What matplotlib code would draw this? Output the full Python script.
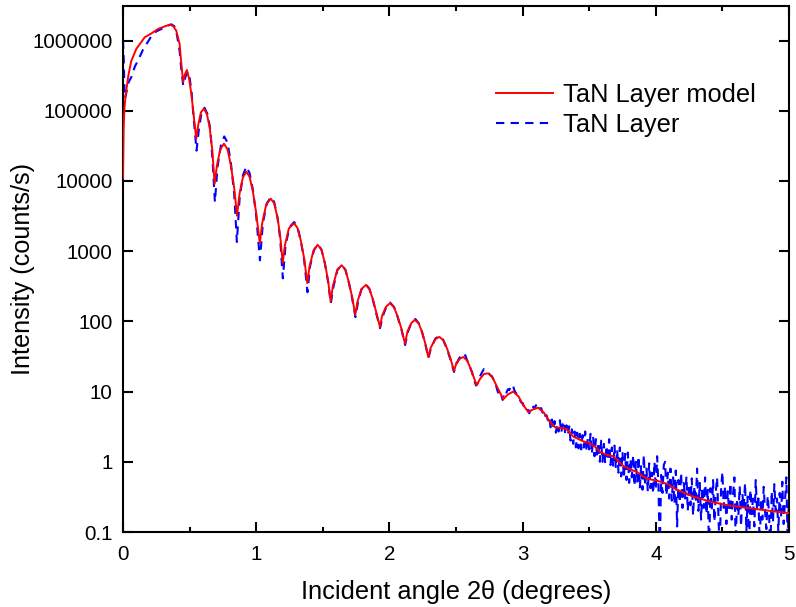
import numpy as np
import matplotlib
matplotlib.use("Agg")
import matplotlib.pyplot as plt
from matplotlib.ticker import FixedLocator, FixedFormatter, MultipleLocator, NullLocator

plt.rcParams['font.family'] = ['Liberation Sans', 'DejaVu Sans']

# Simulated reflectivity (model fit): incident angle (deg) and intensity (counts/s)
model_angle = [
    0.000, 0.005, 0.010, 0.020, 0.040, 0.062, 0.100, 0.163, 0.213, 0.263, 0.310, 0.350,
    0.375, 0.400, 0.425, 0.440, 0.452, 0.465, 0.480, 0.497, 0.513, 0.530, 0.550, 0.565,
    0.585, 0.608, 0.630, 0.650, 0.670, 0.688, 0.705, 0.730, 0.758, 0.785, 0.810, 0.835,
    0.856, 0.875, 0.900, 0.926, 0.950, 0.975, 1.000, 1.027, 1.045, 1.075, 1.109, 1.135,
    1.160, 1.180, 1.199, 1.215, 1.245, 1.284, 1.310, 1.335, 1.360, 1.384, 1.400, 1.430,
    1.461, 1.490, 1.515, 1.540, 1.559, 1.575, 1.610, 1.642, 1.670, 1.695, 1.720, 1.744,
    1.760, 1.790, 1.824, 1.850, 1.875, 1.900, 1.929, 1.945, 1.975, 2.005, 2.035, 2.060,
    2.090, 2.117, 2.135, 2.165, 2.192, 2.220, 2.245, 2.270, 2.292, 2.310, 2.345, 2.375,
    2.405, 2.435, 2.460, 2.485, 2.505, 2.535, 2.555, 2.585, 2.615, 2.655, 2.680, 2.710,
    2.743, 2.775, 2.810, 2.855, 2.890, 2.930, 2.970, 3.000, 3.043, 3.080, 3.118, 3.160,
    3.200, 3.243, 3.305, 3.330, 3.380, 3.456, 3.500, 3.556, 3.580, 3.630, 3.680, 3.757,
    3.800, 3.857, 3.930, 4.007, 4.090, 4.157, 4.280, 4.410, 4.530, 4.660, 4.780, 4.900,
    5.000,
]
model_counts = [
    1.1e4, 5.6e4, 1.05e5, 1.66e5, 3.16e5, 5.1e5, 7.6e5, 1.11e6, 1.26e6, 1.46e6, 1.58e6, 1.68e6,
    1.62e6, 1.38e6, 8.9e5, 4.2e5, 2.57e5, 3.3e5, 3.8e5, 2.8e5, 1.74e5, 8.9e4, 4.0e4, 6.3e4,
    9.5e4, 1.07e5, 8.9e4, 5.9e4, 2.8e4, 9.1e3, 1.66e4, 2.8e4, 3.4e4, 2.8e4, 1.66e4, 7.9e3,
    3.2e3, 6.6e3, 1.12e4, 1.35e4, 1.15e4, 7.1e3, 3.5e3, 1.29e3, 2.5e3, 4.6e3, 5.6e3, 4.8e3,
    3.0e3, 1.66e3, 680, 1.2e3, 2.1e3, 2.5e3, 2.14e3, 1.41e3, 790, 350, 600, 1.02e3,
    1.23e3, 1.05e3, 680, 380, 190, 316, 550, 630, 540, 363, 224, 123,
    190, 288, 331, 288, 209, 138, 83, 120, 162, 182, 158, 120,
    79, 48, 71, 95, 105, 93, 71, 48, 31, 42, 56, 60,
    54, 40, 29, 19.7, 26, 30, 31, 27.5, 20, 12.3, 15.1, 17.8,
    18.2, 15.8, 11.5, 7.8, 9.1, 10.0, 8.5, 6.6, 5.1, 5.6, 5.9, 5.0,
    3.8, 3.1, 3.0, 2.95, 2.29, 1.95, 1.86, 1.58, 1.38, 1.26, 1.20, 0.87,
    0.79, 0.72, 0.575, 0.54, 0.48, 0.40, 0.32, 0.27, 0.243, 0.224, 0.209, 0.195,
    0.186,
]

# Measured reflectivity, low-angle part
meas_angle_low = [
    0.000, 0.005, 0.010, 0.015, 0.025, 0.040, 0.062, 0.090, 0.113, 0.150, 0.213, 0.250,
    0.288, 0.330, 0.363, 0.385, 0.405, 0.425, 0.440, 0.452, 0.468, 0.485, 0.500, 0.515,
    0.530, 0.552, 0.570, 0.590, 0.612, 0.635, 0.655, 0.672, 0.690, 0.710, 0.735, 0.760,
    0.785, 0.810, 0.835, 0.855, 0.875, 0.900, 0.926, 0.950, 0.975, 1.000, 1.028, 1.050,
    1.080, 1.110, 1.135, 1.160, 1.180, 1.200, 1.220, 1.250, 1.285, 1.310, 1.335, 1.360,
    1.385, 1.405, 1.435, 1.465, 1.490, 1.515, 1.540, 1.560, 1.580, 1.610, 1.645, 1.670,
    1.695, 1.720, 1.745, 1.765, 1.790, 1.825, 1.850, 1.875, 1.900, 1.930, 1.950, 1.975,
    2.005, 2.035, 2.060, 2.090, 2.118, 2.140, 2.165, 2.195, 2.220, 2.245, 2.270, 2.293,
    2.310, 2.345, 2.375, 2.405, 2.435, 2.460, 2.485,
]
meas_counts_low = [
    1.0e6, 6.0e5, 2.5e5, 1.5e5, 1.8e5, 2.5e5, 3.0e5, 4.3e5, 5.2e5, 7.4e5, 1.15e6, 1.35e6,
    1.46e6, 1.6e6, 1.7e6, 1.6e6, 1.2e6, 7.1e5, 3.5e5, 2.3e5, 3.0e5, 3.6e5, 3.0e5, 1.8e5,
    8.0e4, 2.7e4, 5.5e4, 9.5e4, 1.1e5, 8.9e4, 5.5e4, 2.0e4, 5.0e3, 1.6e4, 3.2e4, 4.3e4,
    3.5e4, 1.8e4, 6.5e3, 1.35e3, 5.5e3, 1.2e4, 1.6e4, 1.3e4, 7.5e3, 3.2e3, 740, 2.5e3,
    4.8e3, 5.9e3, 5.0e3, 3.0e3, 1.5e3, 410, 1.2e3, 2.2e3, 2.6e3, 2.2e3, 1.4e3, 750,
    260, 620, 1.05e3, 1.25e3, 1.05e3, 680, 360, 180, 310, 540, 640, 540,
    360, 215, 115, 190, 285, 335, 290, 205, 132, 80, 118, 158,
    185, 160, 118, 77, 46, 72, 95, 108, 94, 70, 47, 30,
    40, 57, 62, 54, 39, 28, 19,
]

# Measured reflectivity, high-angle scan: 2.50 to 5.00 deg in 0.01 deg steps
scan_start, scan_step = 2.50, 0.01
meas_counts_high = [
    25, 26, 29, 31, 33, 34, 32, 33, 29, 26,
    25, 21, 19, 16, 14, 12.2, 12.8, 14.5, 16.5, 18,
    19.5, 21, 20, 19, 18.5, 17.8, 17, 16.5, 15, 13.8,
    12.3, 10.5, 9.2, 8.4, 8.8, 7.6, 8.6, 8.2, 9.8, 10.8,
    10.5, 11.6, 10.9, 11.8, 10.2, 9.6, 9.0, 8.1, 7.6, 7.0,
    6.9, 6.2, 5.9, 5.3, 5.5, 4.9, 5.6, 5.3, 6.1, 5.7,
    6.4, 5.8, 6.2, 5.6, 5.8, 5.0, 5.3, 4.5, 4.6, 3.9,
    4.4, 3.1, 4.0, 2.9, 3.8, 2.6, 3.5, 2.7, 3.9, 2.6,
    3.4, 3.8, 2.5, 3.3, 2.4, 3.2, 2.0, 2.9, 1.8, 2.7,
    1.6, 2.6, 1.55, 2.5, 1.5, 2.4, 1.6, 2.7, 1.4, 2.2,
    1.5, 2.5, 1.3, 2.2, 1.2, 2.1, 1.15, 1.9, 1.0, 2.0,
    1.0, 1.8, 0.95, 1.7, 1.05, 2.1, 0.9, 1.6, 0.85, 1.7,
    0.8, 1.5, 0.7, 1.6, 0.62, 1.4, 0.58, 1.3, 0.55, 1.35,
    0.5, 1.1, 0.6, 1.25, 0.45, 1.0, 0.5, 1.2, 0.42, 0.9,
    0.4, 1.25, 0.45, 0.8, 0.38, 0.95, 0.42, 0.7, 0.35, 1.0,
    0.4, 1.2, 0.45, 0.05, 0.65, 0.36, 0.9, 1.0, 0.33, 0.7,
    0.3, 0.8, 0.28, 0.6, 0.25, 0.75, 0.12, 0.55, 0.26, 0.7,
    0.22, 0.5, 0.3, 0.62, 0.2, 0.48, 0.24, 0.58, 0.17, 0.45,
    0.26, 0.8, 0.2, 0.5, 0.15, 0.44, 0.22, 0.6, 0.18, 0.4,
    0.05, 0.42, 0.2, 0.55, 0.14, 0.36, 0.6, 0.18, 0.05, 0.4,
    0.72, 0.22, 0.45, 0.13, 0.38, 0.2, 0.5, 0.15, 0.34, 0.6,
    0.07, 0.3, 0.17, 0.45, 0.12, 0.35, 0.22, 0.5, 0.1, 0.32,
    0.05, 0.4, 0.18, 0.3, 0.12, 0.55, 0.2, 0.34, 0.06, 0.3,
    0.15, 0.44, 0.2, 0.11, 0.33, 0.19, 0.05, 0.38, 0.14, 0.48,
    0.2, 0.3, 0.1, 0.36, 0.16, 0.52, 0.13, 0.28, 0.6, 0.07,
    0.3,
]
meas_angle_high = np.round(scan_start + scan_step * np.arange(len(meas_counts_high)), 2)

meas_angle = np.concatenate([meas_angle_low, meas_angle_high])
meas_counts = np.concatenate([meas_counts_low, meas_counts_high])

y_tick_values = [0.1, 1, 10, 100, 1000, 10000, 100000, 1000000]
y_tick_labels = ["0.1", "1", "10", "100", "1000", "10000", "100000", "1000000"]
x_tick_values = [0, 1, 2, 3, 4, 5]

fig = plt.figure(figsize=(7.96, 6.07), dpi=100)
ax = fig.add_axes([123 / 796, 1 - 532 / 607, (789 - 123) / 796, (532 - 6) / 607])

ax.plot(model_angle, model_counts, color="#ff0000", lw=1.4, label="TaN Layer model", zorder=3)
ax.plot(meas_angle, meas_counts, color="#0000ff", lw=1.5, dashes=(4, 3),
        label="TaN Layer", zorder=2)

ax.set_yscale("log")
ax.set_xlim(0, 5)
ax.set_ylim(0.1, 3.1e6)

ax.yaxis.set_major_locator(FixedLocator(y_tick_values))
ax.yaxis.set_major_formatter(FixedFormatter(y_tick_labels))
ax.yaxis.set_minor_locator(NullLocator())
ax.xaxis.set_major_locator(FixedLocator(x_tick_values))
ax.xaxis.set_minor_locator(MultipleLocator(0.5))

for s in ax.spines.values():
    s.set_linewidth(1.5)
ax.tick_params(which="both", direction="in", top=True, right=True, width=1.5,
               labelsize=14.8, colors="black")
ax.tick_params(which="major", length=7)
ax.tick_params(which="minor", length=3.3)
ax.tick_params(axis="x", which="major", pad=9)
ax.tick_params(axis="y", which="major", pad=7.5)

ax.set_xlabel("Incident angle 2\u03b8 (degrees)", fontsize=18.3, labelpad=12)
ax.set_ylabel("Intensity (counts/s)", fontsize=18.2, labelpad=-2)

ax.legend(loc="upper left", bbox_to_anchor=(496 / 796, 1 - 83 / 607),
          bbox_transform=fig.transFigure, frameon=False, fontsize=18.3,
          handlelength=2.25, handletextpad=0.38, labelspacing=0.25,
          borderpad=0, borderaxespad=0)

fig.savefig("out.png", dpi=100)
